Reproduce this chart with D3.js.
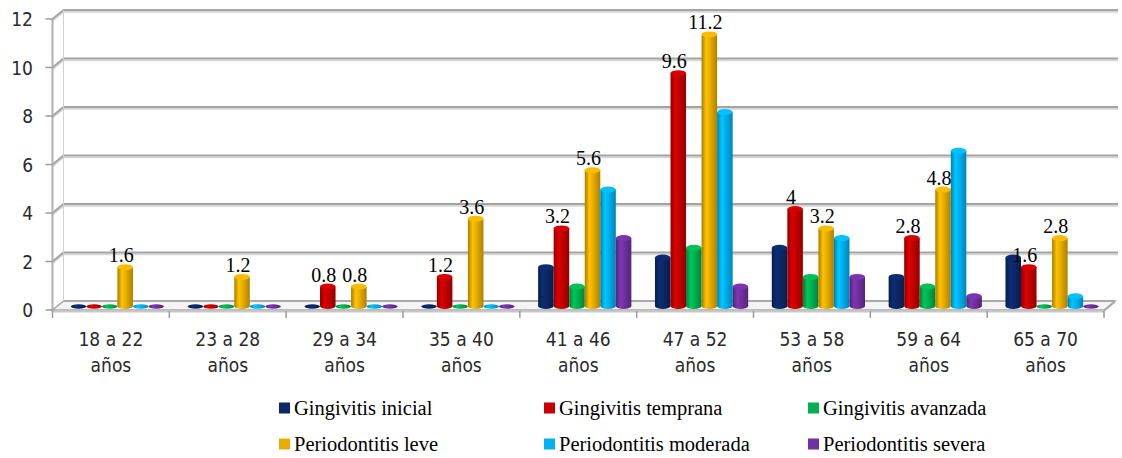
<!DOCTYPE html>
<html>
<head>
<meta charset="utf-8">
<script src="https://cdn.jsdelivr.net/npm/d3@7/dist/d3.min.js"></script>
<style>
  html, body { margin: 0; padding: 0; background: #fff; }
  svg { display: block; }
  .axlab { font-family: "DejaVu Sans Condensed", "DejaVu Sans", sans-serif; font-stretch: condensed; font-size: 19px; fill: #2a2a2a; }
  .serif { font-family: "Liberation Serif", "Times New Roman", serif; fill: #000; }
</style>
</head>
<body>
<svg id="chart" width="1122" height="458"></svg>
<script>
const categories = ["18 a 22 años", "23 a 28 años", "29 a 34 años", "35 a 40 años", "41 a 46 años",
                    "47 a 52 años", "53 a 58 años", "59 a 64 años", "65 a 70 años"];
const seriesNames = ["Gingivitis inicial", "Gingivitis temprana", "Gingivitis avanzada",
                     "Periodontitis leve", "Periodontitis moderada", "Periodontitis severa"];
const seriesColors = ["#0b2766", "#c40000", "#00b050", "#e6ac00", "#00b0f0", "#7030a0"];
const gingivitisInicial    = [0, 0, 0, 0, 1.6, 2.0, 2.4, 1.2, 2.0];
const gingivitisTemprana   = [0, 0, 0.8, 1.2, 3.2, 9.6, 4.0, 2.8, 1.6];
const gingivitisAvanzada   = [0, 0, 0, 0, 0.8, 2.4, 1.2, 0.8, 0];
const periodontitisLeve    = [1.6, 1.2, 0.8, 3.6, 5.6, 11.2, 3.2, 4.8, 2.8];
const periodontitisModerada= [0, 0, 0, 0, 4.8, 8.0, 2.8, 6.4, 0.4];
const periodontitisSevera  = [0, 0, 0, 0, 2.8, 0.8, 1.2, 0.4, 0];
const yTicks = [0, 2, 4, 6, 8, 10, 12];
const labeledSeries = [1, 3];

const seriesValues = [gingivitisInicial, gingivitisTemprana, gingivitisAvanzada,
                      periodontitisLeve, periodontitisModerada, periodontitisSevera];

const svg = d3.select("#chart");
const x0 = 52.5, x1 = 1104, dx = 11, dy = -9;
const y = d3.scaleLinear().domain([0, 12]).range([310, 19]);
const xBand = d3.scaleBand().domain(categories).range([x0, x1]).padding(0);
const inner = d3.scaleBand().domain(d3.range(6)).range([0, xBand.bandwidth()])
  .paddingInner(0).paddingOuter(0.76);

// gradients
const defs = svg.append("defs");
seriesColors.forEach((c, i) => {
  const g = defs.append("linearGradient").attr("id", "g" + i)
    .attr("x1", "0").attr("x2", "1").attr("y1", "0").attr("y2", "0");
  const base = d3.color(c);
  g.append("stop").attr("offset", "0%").attr("stop-color", base.darker(0.9));
  g.append("stop").attr("offset", "30%").attr("stop-color", base.brighter(0.35));
  g.append("stop").attr("offset", "55%").attr("stop-color", base);
  g.append("stop").attr("offset", "100%").attr("stop-color", base.darker(0.8));
});

// floor
svg.append("path")
  .attr("d", `M${x0},${y(0)} L${x1},${y(0)} L${x1 + dx},${y(0) + dy} L${x0 + dx},${y(0) + dy} Z`)
  .attr("fill", "#f4f4f4").attr("stroke", "#a8a8a8").attr("stroke-width", 1.5);
svg.append("line").attr("x1", x0).attr("x2", x1).attr("y1", y(0) + 1.5).attr("y2", y(0) + 1.5)
  .attr("stroke", "#c8c8c8").attr("stroke-width", 2);

// gridlines on back and side walls
const grid = svg.append("g");
yTicks.forEach(v => {
  const yy = y(v);
  if (v > 0) {
    grid.append("path")
      .attr("d", `M${x0},${yy + 1.8} L${x0 + dx},${yy + dy + 1.8} L${x1 + dx + 3},${yy + dy + 1.8}`)
      .attr("fill", "none").attr("stroke", "#d6d6d6").attr("stroke-width", 1.8);
    grid.append("path")
      .attr("d", `M${x0},${yy} L${x0 + dx},${yy + dy} L${x1 + dx + 3},${yy + dy}`)
      .attr("fill", "none").attr("stroke", "#a4a4a4").attr("stroke-width", 2);
  } else {
    grid.append("line").attr("x1", x0 + dx).attr("x2", x1 + dx).attr("y1", yy + dy).attr("y2", yy + dy)
      .attr("stroke", "#a4a4a4").attr("stroke-width", 1.5);
  }
});
// vertical wall edges
svg.append("line").attr("x1", x0).attr("x2", x0).attr("y1", y(12)).attr("y2", y(0) + 2)
  .attr("stroke", "#b0b0b0").attr("stroke-width", 2);
svg.append("line").attr("x1", x0 + dx).attr("x2", x0 + dx).attr("y1", y(12) + dy).attr("y2", y(0) + dy)
  .attr("stroke", "#d0d0d0").attr("stroke-width", 1);

// y ticks and labels
yTicks.forEach(v => {
  svg.append("line").attr("x1", x0 - 7).attr("x2", x0).attr("y1", y(v)).attr("y2", y(v))
    .attr("stroke", "#9a9a9a").attr("stroke-width", 1.5);
  svg.append("text").attr("class", "axlab").attr("x", 33).attr("y", y(v))
    .attr("text-anchor", "end").attr("dominant-baseline", "central").text(v);
});

// x ticks
const bounds = categories.map(c => xBand(c)).concat([x1]);
bounds.forEach(bx => {
  svg.append("line").attr("x1", bx).attr("x2", bx).attr("y1", y(0) + 1).attr("y2", y(0) + 8)
    .attr("stroke", "#9a9a9a").attr("stroke-width", 1.5);
});
// right floor edge
svg.append("line").attr("x1", x1).attr("x2", x1 + dx).attr("y1", y(0) + 1).attr("y2", y(0) + dy + 1)
  .attr("stroke", "#a8a8a8").attr("stroke-width", 1.5);

// category labels
categories.forEach(c => {
  const i = c.lastIndexOf(" ");
  const cx = xBand(c) + xBand.bandwidth() / 2;
  const t = svg.append("text").attr("class", "axlab").attr("text-anchor", "middle");
  t.append("tspan").attr("x", cx).attr("y", 346).text(c.slice(0, i));
  t.append("tspan").attr("x", cx).attr("y", 372).text(c.slice(i + 1));
});

// bars (cylinders)
const shiftX = 6.5, shiftY = -4;
const bw = inner.bandwidth();
const ry = 3;
const barsG = svg.append("g");
const labelsG = svg.append("g");
categories.forEach((c, ci) => {
  seriesValues.forEach((vals, si) => {
    const v = vals[ci];
    const left = xBand(c) + inner(si) + shiftX;
    const cx = left + bw / 2;
    const base = y(0) + shiftY;
    const top = y(v) + shiftY;
    const g = barsG.append("g");
    if (v > 0) {
      g.append("ellipse").attr("cx", cx).attr("cy", base).attr("rx", bw / 2).attr("ry", ry)
        .attr("fill", `url(#g${si})`);
      g.append("rect").attr("x", left).attr("y", top).attr("width", bw).attr("height", base - top)
        .attr("fill", `url(#g${si})`);
      g.append("ellipse").attr("cx", cx).attr("cy", top).attr("rx", bw / 2).attr("ry", ry)
        .attr("fill", d3.color(seriesColors[si]).brighter(0.25));
    } else {
      g.append("ellipse").attr("cx", cx).attr("cy", base + 0.5).attr("rx", bw / 2).attr("ry", 2.2)
        .attr("fill", `url(#g${si})`);
    }
    if (labeledSeries.includes(si) && v > 0) {
      labelsG.append("text").attr("class", "serif").attr("font-size", 20)
        .attr("x", cx - 4).attr("y", top - 5).attr("text-anchor", "middle").text(v);
    }
  });
});

// legend
const legCols = [279, 544, 808];
const legRows = [408, 444];
seriesNames.forEach((n, i) => {
  const lx = legCols[i % 3], ly = legRows[Math.floor(i / 3)];
  svg.append("rect").attr("x", lx).attr("y", ly - 5.5).attr("width", 11).attr("height", 11)
    .attr("fill", seriesColors[i]);
  svg.append("text").attr("class", "serif").attr("font-size", 20.5)
    .attr("x", lx + 15).attr("y", ly + 6.5).text(n);
});
</script>
</body>
</html>
